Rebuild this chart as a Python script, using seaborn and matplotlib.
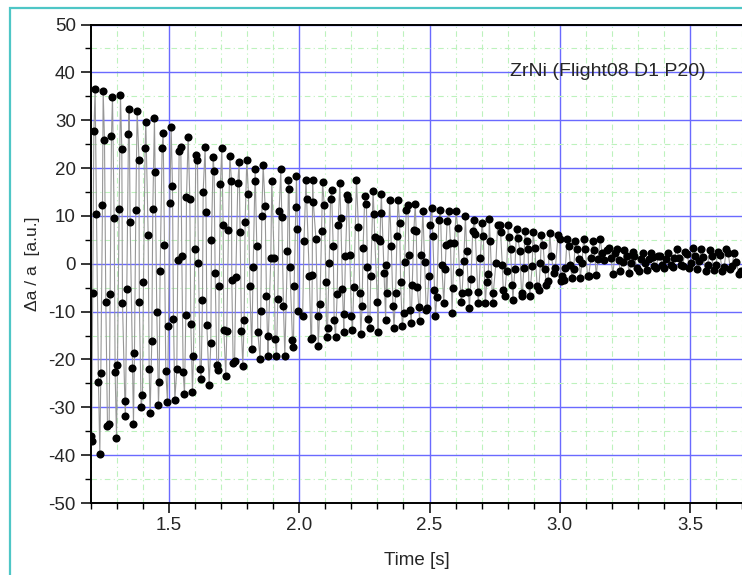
import matplotlib
matplotlib.use("Agg")
import matplotlib.pyplot as plt
import pandas as pd
import seaborn as sns
from matplotlib.ticker import MultipleLocator, FormatStrFormatter
from matplotlib.patches import Rectangle

# Drop surface oscillation, relative change of the half axis (ZrNi, flight 08)
t_early = [1.2000, 1.2025, 1.2065, 1.2110, 1.2159, 1.2211, 1.2287, 1.2339, 1.2377, 1.2441,
           1.2467, 1.2518, 1.2569, 1.2633, 1.2697, 1.2735, 1.2787, 1.2825, 1.2889, 1.2927,
           1.2979, 1.3017, 1.3081, 1.3132, 1.3183, 1.3209, 1.3300, 1.3322, 1.3375, 1.3439,
           1.3465, 1.3503, 1.3593, 1.3631, 1.3669, 1.3721, 1.3772, 1.3842, 1.3856, 1.3925,
           1.3977, 1.4015, 1.4079, 1.4105, 1.4195, 1.4233, 1.4271, 1.4335, 1.4373, 1.4437,
           1.4463, 1.4527, 1.4591, 1.4617, 1.4655, 1.4732, 1.4771, 1.4822, 1.4873, 1.4937,
           1.4975, 1.5027, 1.5078, 1.5129, 1.5167, 1.5219, 1.5295, 1.5333, 1.5385, 1.5449,
           1.5487, 1.5539, 1.5590, 1.5641, 1.5667, 1.5731, 1.5795, 1.5833, 1.5897, 1.5935,
           1.5987, 1.6025, 1.6089, 1.6127, 1.6191, 1.6229, 1.6281, 1.6307, 1.6383, 1.6421,
           1.6447, 1.6537, 1.6601, 1.6627, 1.6691, 1.6729, 1.6767, 1.6831, 1.6895, 1.6921,
           1.6972, 1.7023, 1.7075, 1.7100, 1.7177, 1.7215, 1.7279, 1.7331, 1.7395, 1.7407,
           1.7459, 1.7515, 1.7561, 1.7638, 1.7689, 1.7727, 1.7779, 1.7830, 1.7881, 1.7919,
           1.7983, 1.8047, 1.8099, 1.8175, 1.8227, 1.8291, 1.8303, 1.8367, 1.8405, 1.8495,
           1.8521, 1.8559, 1.8611, 1.8687, 1.8739, 1.8795, 1.8811, 1.8905, 1.8943, 1.9033,
           1.9071, 1.9123, 1.9173, 1.9225, 1.9289, 1.9327, 1.9391, 1.9443, 1.9545, 1.9583,
           1.9609, 1.9635, 1.9737, 1.9775, 1.9801, 1.9865, 1.9891, 1.9929, 1.9960]
da_early = [-36.1, -37.1, -6.2, 27.7, 36.6, 10.3, -24.8, -39.7, -22.8, 12.2,
            36.2, 25.9, -8.0, -34.0, -33.5, -6.3, 26.8, 34.9, 9.5, -22.7,
            -36.4, -21.1, 11.5, 35.2, 23.9, -8.2, -28.6, -31.8, -5.2, 27.1,
            32.4, 8.8, -21.8, -33.4, -18.7, 11.3, 32.0, 21.7, -8.0, -29.9,
            -27.5, -3.8, 24.2, 29.6, 6.1, -22.1, -31.2, -16.2, 11.5, 30.4,
            19.2, -10.1, -29.5, -24.8, -1.5, 24.2, 27.4, 3.9, -22.5, -28.9,
            -13.1, 12.7, 28.6, 16.2, -11.5, -28.4, -22.1, 0.7, 23.5, 24.4,
            1.6, -22.7, -27.2, -10.8, 14.0, 26.5, 13.6, -12.5, -26.9, -19.3,
            3.0, 22.8, 21.7, 0.1, -21.9, -24.1, -7.6, 15.0, 24.5, 10.9,
            -12.7, -25.3, -16.6, 5.0, 22.4, 19.3, -1.9, -21.1, -22.3, -4.7,
            16.7, 24.2, 8.2, -13.8, -23.5, -14.1, 7.1, 22.6, 17.2, -3.5,
            -20.7, -20.4, -2.7, 16.9, 21.2, 6.6, -14.1, -21.3, -11.8, 8.8,
            21.7, 14.5, -4.7, -17.8, -0.7, 17.3, 19.7, 3.7, -14.3, -20.0,
            -9.8, 9.9, 20.6, 12.0, -6.8, -19.2, -15.2, 1.3, 17.3, 1.3,
            -15.7, -19.2, -7.4, 11.1, 19.7, 9.7, -8.9, -19.2, 2.6, 17.4,
            15.7, -0.7, -15.9, -17.4, -4.7, 11.9, 18.4, 7.3, -9.9]

t_mid = [2.0128, 2.0179, 2.0255, 2.0281, 2.0383, 2.0446, 2.0472, 2.0497, 2.0510, 2.0536,
         2.0638, 2.0702, 2.0727, 2.0791, 2.0855, 2.0893, 2.0957, 2.1021, 2.1046, 2.1084,
         2.1148, 2.1199, 2.1237, 2.1301, 2.1339, 2.1390, 2.1454, 2.1492, 2.1556, 2.1594,
         2.1658, 2.1709, 2.1722, 2.1773, 2.1849, 2.1888, 2.1939, 2.2002, 2.2041, 2.2092,
         2.2194, 2.2270, 2.2321, 2.2360, 2.2411, 2.2449, 2.2513, 2.2577, 2.2615, 2.2640,
         2.2704, 2.2742, 2.2832, 2.2870, 2.2895, 2.2997, 2.3023, 2.3048, 2.3099, 2.3125,
         2.3150, 2.3253, 2.3316, 2.3342, 2.3367, 2.3469, 2.3533, 2.3597, 2.3635, 2.3699,
         2.3750, 2.3788, 2.3852, 2.3890, 2.3954, 2.4005, 2.4043, 2.4107, 2.4171, 2.4209,
         2.4260, 2.4298, 2.4337, 2.4400, 2.4451, 2.4490, 2.4528, 2.4592, 2.4617, 2.4681,
         2.4745, 2.4809, 2.4872, 2.4911, 2.4974, 2.5025, 2.5089, 2.5127, 2.5191, 2.5229,
         2.5280, 2.5357, 2.5421, 2.5472, 2.5548, 2.5599, 2.5638, 2.5676, 2.5740, 2.5804,
         2.5867, 2.5893, 2.5957, 2.6021, 2.6084, 2.6148, 2.6212, 2.6250, 2.6314, 2.6378,
         2.6429, 2.6493, 2.6531, 2.6595, 2.6658, 2.6722, 2.6760, 2.6850, 2.6875, 2.6952,
         2.7015, 2.7066, 2.7143, 2.7194, 2.7258, 2.7296, 2.7334, 2.7423, 2.7449, 2.7551,
         2.7615]
da_mid = [-11.0, 4.7, 17.4, 13.6, -2.6, -15.7, -15.5, -2.4, 17.4, 12.9,
          5.2, -11.0, -17.1, -8.5, 6.8, 17.1, 12.2, -3.9, -15.3, -13.4,
          0.2, 13.6, 15.5, 3.7, -11.8, -15.3, -6.4, 8.0, 16.9, 9.5,
          -5.3, -14.3, -10.6, 1.6, 14.4, 13.6, 1.8, -11.0, -13.8, -4.9,
          17.6, 7.6, -6.1, -14.7, -8.9, 3.3, 14.1, 12.4, -0.7, -11.5,
          -13.5, -2.6, 15.2, 10.5, 5.6, -7.9, -14.3, 5.2, 4.7, 10.6,
          14.5, -1.9, -11.8, -0.3, -6.1, 13.3, 3.7, -8.9, -13.4, -6.1,
          5.9, 13.3, 8.5, -3.9, -13.0, -10.3, 0.3, 11.3, 12.2, 1.9,
          -9.7, -12.4, -4.4, 7.0, 12.4, 6.8, -4.8, -9.1, -12.0, 1.9,
          11.1, 0.3, -9.7, -9.2, -2.6, 8.0, 11.7, 5.8, -5.5, -11.0,
          -6.9, 9.1, 11.3, -0.3, -8.3, -1.2, 4.0, 8.9, 11.1, 4.4,
          -10.3, -5.0, 4.4, 11.0, 7.4, -1.7, -7.9, -6.1, 0.5, 9.9,
          2.6, -5.9, -9.2, -3.1, 6.8, 9.2, 6.3, -5.9, -8.3, 1.2,
          8.6, 5.9, -8.3, -3.9, -2.1, 9.4, 4.7, -8.3, -6.1, 0.2,
          8.2]

t_late = [2.7704, 2.7730, 2.7793, 2.7832, 2.7883, 2.7959, 2.8023, 2.8049, 2.8112, 2.8176,
          2.8202, 2.8278, 2.8342, 2.8393, 2.8469, 2.8533, 2.8559, 2.8622, 2.8661, 2.8725,
          2.8788, 2.8814, 2.8852, 2.8941, 2.8980, 2.9043, 2.9133, 2.9196, 2.9260, 2.9298,
          2.9362, 2.9426, 2.9490, 2.9554, 2.9617, 2.9681, 2.9770, 2.9834, 2.9936, 3.0000,
          3.0051, 3.0102, 3.0153, 3.0217, 3.0281, 3.0344, 3.0408, 3.0472, 3.0536, 3.0600,
          3.0663, 3.0753, 3.0791, 3.0855, 3.0918, 3.0982, 3.1071, 3.1110, 3.1199, 3.1276,
          3.1327, 3.1403, 3.1467, 3.1556, 3.1620, 3.1684, 3.1811, 3.1875, 3.1964, 3.2041,
          3.2130, 3.2194, 3.2270, 3.2321, 3.2423, 3.2487, 3.2577, 3.2666, 3.2730, 3.2806,
          3.2870, 3.2959, 3.3036, 3.3125, 3.3189, 3.3278, 3.3342, 3.3419, 3.3495, 3.3571,
          3.3635, 3.3699, 3.3788, 3.3852, 3.3929, 3.4005, 3.4082, 3.4171, 3.4260, 3.4337,
          3.4401, 3.4490, 3.4567, 3.4643, 3.4720, 3.4809, 3.4898, 3.4975, 3.5038, 3.5128,
          3.5191, 3.5281, 3.5344, 3.5434, 3.5510, 3.5599, 3.5676, 3.5765, 3.5829, 3.5918,
          3.5995, 3.6084, 3.6148, 3.6250, 3.6314, 3.6403, 3.6467, 3.6556, 3.6620, 3.6696,
          3.6786, 3.6875, 3.6952]
da_late = [8.2, 6.6, -0.2, -5.4, -6.8, -1.6, 8.2, 5.6, 3.0, -4.4,
           -7.6, -1.1, 7.2, 5.4, 2.6, -6.1, -6.8, -0.9, 6.8, 4.7,
           3.0, -4.4, -6.7, -0.5, 6.6, 3.3, -4.7, -5.4, 0.2, 6.1,
           4.0, -1.1, -4.4, -3.7, 6.5, 1.6, -1.9, -0.9, 6.1, 5.2,
           -3.7, -2.6, -3.3, -0.9, 5.2, 3.7, -0.2, -3.0, -1.2, 4.7,
           3.0, 0.9, -3.0, 0.2, 5.1, 3.1, -2.6, -2.5, 1.2, 4.8,
           2.8, -2.3, 0.9, 5.2, 2.3, 0.7, 2.8, 3.3, 1.2, -2.1,
           2.3, 3.0, 0.7, -1.6, 0.3, 2.8, 1.7, -1.9, 0.2, 2.4,
           1.7, -0.9, -1.6, 0.9, 2.3, 0.2, -1.4, 0.9, 2.3, 1.4,
           -0.5, -0.9, 1.7, 1.6, -0.2, -0.9, 1.0, 2.3, -0.2, -0.7,
           1.2, 3.0, 1.2, -0.2, -0.4, 2.4, 2.1, -0.9, 0.2, 3.3,
           1.7, -1.2, 0.5, 3.0, 1.4, -1.6, -0.2, 2.8, 1.6, -1.4,
           -0.2, 2.4, 1.9, -1.6, -0.7, 3.1, 2.3, -1.2, -0.4, 2.3,
           0.3, -2.1, -1.6]

x_ticks = [1.5, 2.0, 2.5, 3.0, 3.5]
y_ticks = [-50, -40, -30, -20, -10, 0, 10, 20, 30, 40, 50]
sample_label = "ZrNi (Flight08 D1 P20)"

df = pd.DataFrame({
    "time": t_early + t_mid + t_late,
    "da": da_early + da_mid + da_late,
})

sns.set_style("ticks")
plt.rcParams["font.family"] = ["Liberation Sans", "DejaVu Sans"]
plt.rcParams["axes.unicode_minus"] = False

W, H = 742, 575
fig = plt.figure(figsize=(W / 100, H / 100), dpi=100)
fig.patch.set_facecolor("white")

# cyan frame around the chart panel
fig.add_artist(Rectangle((10 / W, -0.05), 1.2, 1 - 8 / H + 0.05,
                         transform=fig.transFigure, fill=False,
                         edgecolor="#4ec6c6", lw=1.6))

ax = fig.add_axes([91 / W, 1 - 503 / H, 1 - 91 / W, (503 - 24.5) / H])
ax.set_facecolor("white")

sns.lineplot(data=df, x="time", y="da", ax=ax, color="#979797", lw=0.8,
             estimator=None, sort=True, zorder=2)
sns.scatterplot(data=df, x="time", y="da", ax=ax, color="black", s=34,
                edgecolor="black", linewidth=0, zorder=3)

ax.set_xlim(1.2, 3.70)
ax.set_ylim(-50, 50)
ax.set_xticks(x_ticks)
ax.set_yticks(y_ticks)
ax.xaxis.set_minor_locator(MultipleLocator(0.1))
ax.yaxis.set_minor_locator(MultipleLocator(5))
ax.xaxis.set_major_formatter(FormatStrFormatter("%.1f"))

ax.set_axisbelow(True)
ax.grid(True, which="major", color="#6a6aff", lw=1.0)
ax.grid(True, which="minor", color="#bdf2bd", lw=0.8, ls=(0, (5, 3, 1, 3)))

for side in ("left", "bottom", "top"):
    ax.spines[side].set_color("black")
    ax.spines[side].set_linewidth(1.4)
ax.spines["right"].set_visible(False)

ax.tick_params(which="major", direction="out", length=7, width=1.1,
               labelsize=13.5, pad=3, color="black")
ax.tick_params(which="minor", direction="out", length=4, width=1.0, color="black")
ax.tick_params(axis="y", which="major", pad=4)

ax.set_xlabel("Time [s]", fontsize=13.5, labelpad=13)
ax.set_ylabel("\u0394a / a  [a.u.]", fontsize=12.5, labelpad=6)

ax.text(2.81, 40.2, sample_label, fontsize=14, va="center", ha="left")

fig.savefig("out.png", dpi=100)
